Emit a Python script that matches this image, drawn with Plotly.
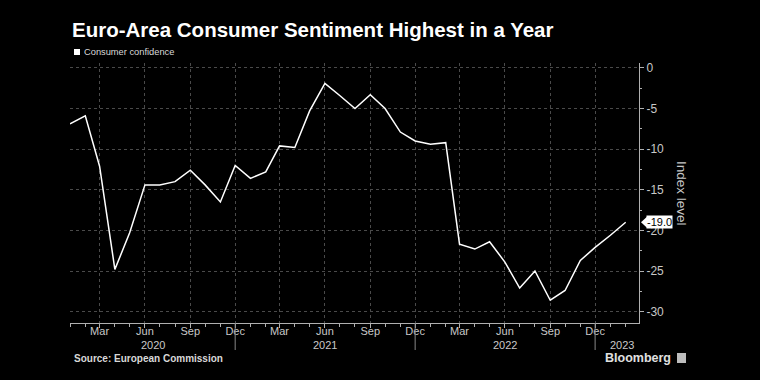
import plotly.graph_objects as go

months = [f"{y}-{m:02d}-01" for y in (2020, 2021, 2022) for m in range(1, 13)] + ["2023-01-01", "2023-02-01"]
confidence = [
    -6.9, -5.9, -12.1, -24.8, -20.3, -14.4, -14.4, -14.0, -12.6, -14.4, -16.5, -12.0,
    -13.6, -12.8, -9.6, -9.8, -5.3, -1.9, -3.4, -5.0, -3.3, -5.0, -7.9, -9.0,
    -9.4, -9.2, -21.7, -22.3, -21.4, -23.9, -27.1, -25.0, -28.6, -27.4, -23.7, -22.1,
    -20.6, -19.0,
]
y_ticks = [0, -5, -10, -15, -20, -25, -30]
y_ticktext = ["0", "-5", "-10", "-15", "-20", "-25", "-30"]
year_labels = ["2020", "2021", "2022", "2023"]
year_label_x = ["2020-06-17", "2021-06-01", "2022-06-01", "2023-01-24"]
year_separators = ["2020-12-01", "2021-12-01", "2022-12-01"]

FONT = "Liberation Sans"
GREY = "#c8c8c8"
AXIS = "#b0b0b0"
GRID = "#4a4a4a"

fig = go.Figure()
fig.add_trace(go.Scatter(
    x=months, y=confidence, mode="lines",
    line=dict(color="white", width=1.5), showlegend=False, hoverinfo="skip",
))

fig.update_layout(
    width=760, height=380,
    paper_bgcolor="black", plot_bgcolor="black",
    margin=dict(l=70, r=121, t=63, b=57),
    font=dict(family=FONT, color=GREY, size=11),
    xaxis=dict(
        type="date", range=["2020-01-01", "2023-02-28"],
        tick0="2020-03-01", dtick="M3", tickformat="%b",
        ticks="outside", ticklen=4, tickcolor=AXIS,
        ticklabelstandoff=-6,
        showgrid=True, gridcolor=GRID, griddash="dot", gridwidth=1,
        showline=True, linecolor=AXIS, linewidth=1,
        zeroline=False,
        tickfont=dict(size=11, color=GREY),
        minor=dict(dtick="M1", tick0="2020-01-01", ticks="outside", ticklen=3,
                   tickcolor=AXIS, showgrid=False),
    ),
    yaxis=dict(
        side="right", range=[-31.4, 0.6],
        tickmode="array", tickvals=y_ticks, ticktext=y_ticktext,
        ticks="outside", ticklen=4, tickcolor=AXIS,
        showgrid=True, gridcolor=GRID, griddash="dot", gridwidth=1,
        showline=True, linecolor=AXIS, linewidth=1,
        zeroline=False,
        tickfont=dict(size=12, color=GREY),
        minor=dict(tickmode="array", tickvals=[-2.5, -7.5, -12.5, -17.5, -22.5, -27.5],
                   ticks="outside", ticklen=2, tickcolor=AXIS, showgrid=False),
    ),
)

annotations = [
    dict(text="<b>Euro-Area Consumer Sentiment Highest in a Year</b>",
         xref="paper", yref="paper", x=0, y=(323 - 29) / 260, xanchor="left", yanchor="middle",
         showarrow=False, font=dict(family=FONT, size=20.5, color="white")),
    dict(text="Consumer confidence",
         xref="paper", yref="paper", x=(82 - 70) / 569, y=(323 - 52) / 260, xanchor="left", yanchor="middle",
         showarrow=False, font=dict(family=FONT, size=9.3, color="#d8d8d8")),
    dict(text="Index level", textangle=90,
         xref="paper", yref="paper", x=(682 - 70) / 569, y=0.5, xanchor="center", yanchor="middle",
         showarrow=False, font=dict(family=FONT, size=13.5, color=GREY)),
    dict(text="<b>Source: European Commission</b>",
         xref="paper", yref="paper", x=(72 - 70) / 569, y=(323 - 358) / 260, xanchor="left", yanchor="middle",
         showarrow=False, font=dict(family=FONT, size=10, color="#d8d8d8")),
    dict(text="<b>Bloomberg</b>",
         xref="paper", yref="paper", x=(673 - 70) / 569, y=(323 - 358) / 260, xanchor="right", yanchor="middle",
         showarrow=False, font=dict(family=FONT, size=12.5, color="#e0e0e0")),
    dict(text="-19.0",
         xref="paper", yref="y", x=1, xshift=7, y=confidence[-1], xanchor="left", yanchor="middle",
         showarrow=False, bgcolor="white", borderpad=0,
         font=dict(family=FONT, size=11, color="black")),
]
for lab, xv in zip(year_labels, year_label_x):
    annotations.append(dict(text=lab, xref="x", yref="paper", x=xv, y=(323 - 345) / 260,
                            xanchor="center", yanchor="middle", showarrow=False,
                            font=dict(family=FONT, size=11, color=GREY)))
fig.update_layout(annotations=annotations)

shapes = [
    dict(type="rect", xref="paper", yref="paper",
         x0=(74 - 70) / 569, x1=(80 - 70) / 569, y0=(323 - 55) / 260, y1=(323 - 49) / 260,
         fillcolor="white", line=dict(width=0)),
    dict(type="path", xref="paper", yref="y", xsizemode="pixel", ysizemode="pixel",
         xanchor=1, yanchor=confidence[-1], path="M2,0 L8,5.5 L8,-5.5 Z",
         fillcolor="white", line=dict(width=0)),
    dict(type="rect", xref="paper", yref="paper",
         x0=(677 - 70) / 569, x1=(686 - 70) / 569, y0=(323 - 363) / 260, y1=(323 - 353) / 260,
         fillcolor="#bdbdbd", line=dict(width=0)),
]
for xv in year_separators:
    shapes.append(dict(type="line", xref="x", yref="paper", x0=xv, x1=xv,
                       y0=0, y1=-27 / 260, line=dict(color="#888888", width=1)))
fig.update_layout(shapes=shapes)

fig.write_html(
    "out.html",
    config={"displayModeBar": False},
    post_script="document.body.style.margin='0';document.body.style.background='black';",
)
